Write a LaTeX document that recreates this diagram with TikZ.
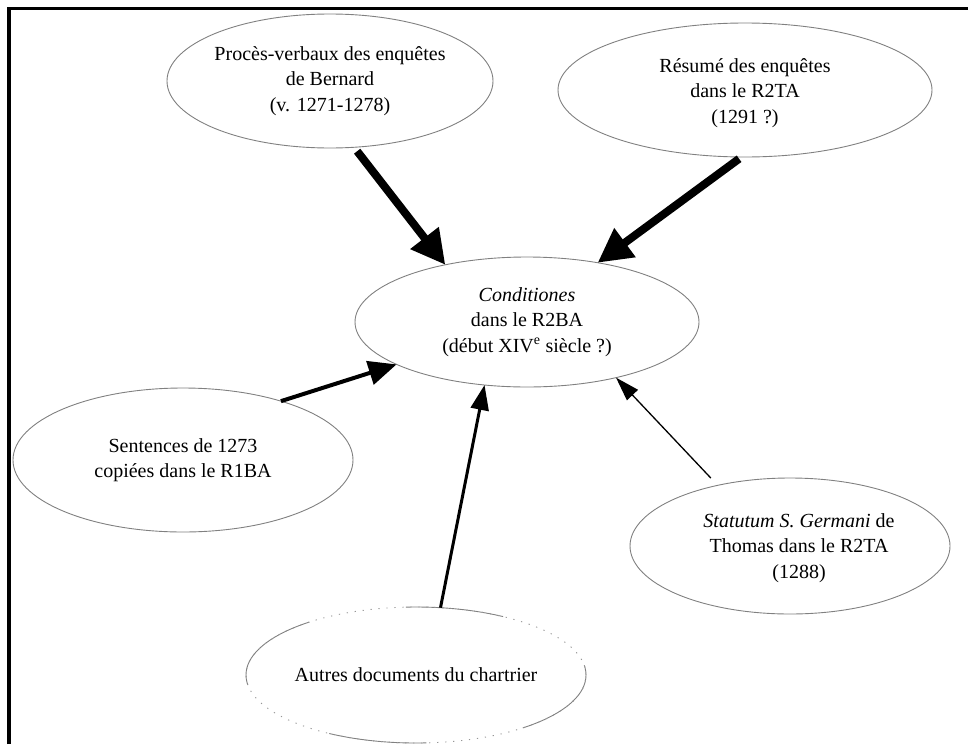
\documentclass[tikz,border=0pt]{standalone}
\usepackage{fontspec}
\setmainfont{Liberation Serif}
\usetikzlibrary{shapes.geometric,arrows.meta}
\definecolor{EllGray}{RGB}{128,128,128}
\definecolor{DotGray}{RGB}{150,150,150}
\tikzset{
  src/.style={ellipse,draw=EllGray,line width=0.9pt,inner sep=0pt,outer sep=0pt},
  txt/.style={align=center,inner sep=0pt,font=\fontsize{20}{25.5}\selectfont},
  heavy/.style={-{Triangle[length=34pt,width=34pt]},line width=8pt},
  medium/.style={-{Triangle[length=28pt,width=24pt]},line width=4pt},
  light/.style={-{Triangle[length=25pt,width=18pt]},line width=3pt},
  faint/.style={-{Triangle[length=24pt,width=15pt]},line width=1.3pt},
}

\begin{document}
\begin{tikzpicture}[x=1pt,y=-1pt]
\useasboundingbox (0,0) rectangle (968,744);
\draw[line width=3.5pt] (9,744)--(9,8.5)--(968,8.5);
% sources and the compiled text
\node[src,minimum width=326pt,minimum height=134pt] (proc) at (330,81) {};
\node[src,minimum width=374pt,minimum height=134pt] (resume) at (745,90) {};
\node[src,minimum width=344pt,minimum height=130pt] (cond) at (527,322) {};
\node[src,minimum width=340pt,minimum height=144pt] (sent) at (183,460) {};
\node[src,minimum width=320pt,minimum height=136pt] (stat) at (790,546) {};
\node[src,minimum width=340pt,minimum height=136pt,
  dash pattern=on 97.9pt off 97.9pt,dash phase=88pt,
  postaction={draw=DotGray,dash pattern=on 1.2pt off 6.8pt}] (autres) at (416,675) {};
\node[txt] (proc-t) at (proc) {Procès-verbaux des enquêtes\\de Bernard\\(v. 1271-1278)};
\node[txt] (resume-t) at ([yshift=-3pt]resume) {Résumé des enquêtes\\dans le R2TA\\(1291 ?)};
\node[txt] (cond-t) at (cond) {\textit{Conditiones}\\dans le R2BA\\(début XIV\textsuperscript{e} siècle ?)};
\node[txt] (sent-t) at (sent) {Sentences de 1273\\copiées dans le R1BA};
\node[txt] (stat-t) at (799,548) {\textit{Statutum S. Germani} de\\Thomas dans le R2TA\\(1288)};
\node[txt] (autres-t) at (autres) {Autres documents du chartrier};
% arrows
\draw[heavy,shorten <=5pt] (proc.290.8) -- (cond.145.1);
\draw[heavy,shorten <=3pt] (resume.267.5) -- (cond.40.2);
\draw[medium] (sent.31.7) -- (cond.198.9);
\draw[light] (autres.70.3) -- (cond.236.5);
\draw[faint,shorten <=10pt] (stat.140.3) -- (cond.328.4);
\end{tikzpicture}
\end{document}
